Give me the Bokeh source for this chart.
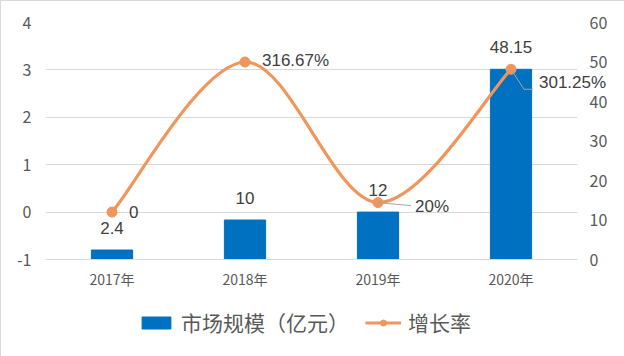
from bokeh.plotting import figure
from bokeh.layouts import column
from bokeh.models import (Range1d, LinearAxis, FixedTicker, Legend, LegendItem,
                          ColumnDataSource, Label)
from bokeh.core.properties import value
from bokeh.embed import file_html
from bokeh.resources import INLINE

# ---- data ----
years = ["2017年", "2018年", "2019年", "2020年"]
market_size = [2.4, 10, 12, 48.15]          # 市场规模（亿元）, right axis
growth = [0.0, 3.1667, 0.20, 3.0125]         # 增长率 (fraction), left axis
size_labels = ["2.4", "10", "12", "48.15"]
growth_labels = ["0", "316.67%", "20%", "301.25%"]
left_ticks = [-1, 0, 1, 2, 3, 4]
right_ticks = [0, 10, 20, 30, 40, 50, 60]
series_names = ["市场规模（亿元）", "增长率"]

# ---- style ----
FONT = "Noto Sans CJK SC"
NUMFONT = "Liberation Sans"
TXT = "#595959"
GRID = "#d9d9d9"
BLUE = "#0070C0"
ORANGE = "#F0955B"
NAN = float("nan")

xs = [i + 0.5 for i in range(len(years))]

W, H = 624, 296
L, R, T, B = 44, 48, 21, 38
FW, FH = W - L - R, H - T - B

p = figure(width=W, height=H, output_backend="svg", toolbar_location=None,
           x_range=Range1d(0, len(years)), y_range=Range1d(-1, 4),
           min_border_left=L, min_border_right=R, min_border_top=T,
           min_border_bottom=B)
p.outline_line_color = None
p.background_fill_color = "white"
p.border_fill_color = "white"

p.extra_y_ranges = {"size": Range1d(0, 60)}

# axes
p.xaxis.ticker = FixedTicker(ticks=xs)
p.xaxis.major_label_overrides = {x: y for x, y in zip(xs, years)}
p.xaxis.axis_line_color = GRID
p.xaxis.major_tick_line_color = None
p.xaxis.major_tick_out = 0
p.xaxis.minor_tick_line_color = None
p.xaxis.major_label_text_font = FONT
p.xaxis.major_label_text_font_size = "14px"
p.xaxis.major_label_text_color = TXT
p.xaxis.major_label_standoff = 9

p.yaxis.ticker = FixedTicker(ticks=left_ticks)
p.yaxis.major_label_overrides = {t: str(t) for t in left_ticks}
p.yaxis.axis_line_color = None
p.yaxis.major_tick_line_color = None
p.yaxis.major_tick_out = 0
p.yaxis.minor_tick_line_color = None
p.yaxis.major_label_text_font = FONT
p.yaxis.major_label_text_font_size = "16px"
p.yaxis.major_label_text_color = TXT
p.yaxis.major_label_standoff = 14

ra = LinearAxis(y_range_name="size", ticker=FixedTicker(ticks=right_ticks))
ra.axis_line_color = None
ra.major_tick_line_color = None
ra.major_tick_out = 0
ra.minor_tick_line_color = None
ra.major_label_text_font = FONT
ra.major_label_text_font_size = "16px"
ra.major_label_text_color = TXT
ra.major_label_standoff = 12
p.add_layout(ra, "right")

p.xgrid.grid_line_color = None
p.ygrid.grid_line_color = GRID
p.ygrid.grid_line_width = 1

# bars
src_bar = ColumnDataSource(dict(x=xs, top=market_size, lab=size_labels))
p.vbar(x="x", top="top", bottom=0, width=0.31, source=src_bar,
       color=BLUE, y_range_name="size")

# smooth line through the growth points (cubic bezier, Catmull-Rom style)
n = len(xs)
x0, y0, x1, y1, cx0, cy0, cx1, cy1 = [], [], [], [], [], [], [], []
for i in range(n - 1):
    ip = max(i - 1, 0)
    inx = min(i + 2, n - 1)
    x0.append(xs[i]); y0.append(growth[i])
    x1.append(xs[i + 1]); y1.append(growth[i + 1])
    cx0.append(xs[i] + (xs[i + 1] - xs[ip]) / 6)
    cy0.append(growth[i] + (growth[i + 1] - growth[ip]) / 6)
    cx1.append(xs[i + 1] - (xs[inx] - xs[i]) / 6)
    cy1.append(growth[i + 1] - (growth[inx] - growth[i]) / 6)
p.bezier(x0=x0, y0=y0, x1=x1, y1=y1, cx0=cx0, cy0=cy0, cx1=cx1, cy1=cy1,
         line_color=ORANGE, line_width=3.2)
p.scatter(xs, growth, size=10, marker="circle", color=ORANGE)

# leader lines (screen px offsets converted to data units)
pxx = len(years) / FW
pxy = 5.0 / FH
p.line([xs[2], xs[2] + 33 * pxx], [growth[2], growth[2] - 3 * pxy],
       line_color="#a6a6a6", line_width=1)
p.line([xs[3], xs[3] + 13 * pxx, xs[3] + 22 * pxx],
       [growth[3], growth[3] - 20 * pxy, growth[3] - 20 * pxy],
       line_color="#a6a6a6", line_width=1)

# bar value labels
p.text(x="x", y="top", text="lab", source=src_bar, y_range_name="size",
       text_align="center", text_baseline="middle", y_offset=-22,
       text_font=value(NUMFONT), text_font_size="17px", text_color="#404040")

# growth labels; the last one crosses the frame edge, so it is hosted in the
# (otherwise empty) top panel, which keeps it from being clipped to the frame
gx_off = [17, 17, 37, 28]
gy_off = [0, 1, -4, -13]
for i, (gx, gy, gl, xo, yo) in enumerate(zip(xs, growth, growth_labels,
                                             gx_off, gy_off)):
    lab = Label(x=gx, y=gy, text=gl, x_offset=xo, y_offset=yo,
                text_align="left", text_baseline="middle",
                text_font=NUMFONT, text_font_size="17px", text_color="#404040")
    p.add_layout(lab, "above" if i == len(xs) - 1 else "center")

# ---- legend strip ----
q = figure(width=W, height=60, output_backend="svg", toolbar_location=None,
           x_range=Range1d(0, 1), y_range=Range1d(0, 1),
           min_border=0, outline_line_color=None)
q.axis.visible = False
q.grid.visible = False
q.background_fill_color = "white"
q.border_fill_color = "white"
lb = q.vbar(x=[NAN], top=[NAN], width=0.3, color=BLUE)
ll = q.line(x=[NAN], y=[NAN], line_color=ORANGE, line_width=3.2)
ls = q.scatter(x=[NAN], y=[NAN], size=10, marker="circle", color=ORANGE)
legend = Legend(items=[LegendItem(label=series_names[0], renderers=[lb]),
                       LegendItem(label=series_names[1], renderers=[ll, ls])],
                orientation="horizontal", location=(93, 20))
legend.glyph_width = 36
legend.glyph_height = 15
legend.label_standoff = 7
legend.spacing = 16
legend.padding = 0
legend.margin = 0
legend.border_line_color = None
legend.background_fill_alpha = 0
legend.label_text_font = FONT
legend.label_text_font_size = "21px"
legend.label_text_color = TXT
q.add_layout(legend, "center")

page = column(p, q, spacing=0)
page.styles = {"border": "1px solid #d9d9d9", "box-sizing": "border-box"}

open("out.html", "w").write(file_html(page, INLINE))
